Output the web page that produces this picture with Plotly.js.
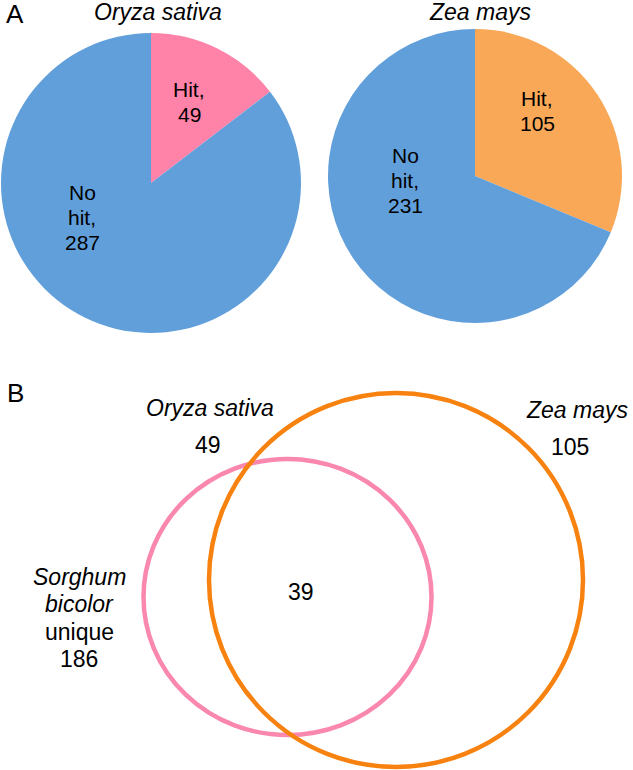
<!DOCTYPE html>
<html>
<head>
<meta charset="utf-8">
<script src="https://cdn.plot.ly/plotly-3.0.1.min.js"></script>
<style>html,body{margin:0;padding:0;background:#fff;}#chart{width:633px;height:770px;}</style>
</head>
<body>
<div id="chart"></div>
<script>
// ---- data ----
const species = ["Oryza sativa", "Zea mays"];
const sliceLabels = ["Hit", "No hit"];
const oryzaValues = [49, 287];
const zeaValues = [105, 231];
const vennSetCounts = [49, 105];      // Oryza sativa, Zea mays
const vennOverlap = 39;
const sorghumUnique = 186;

// ---- styles / layout helpers ----
const FONT = "'Liberation Sans', Arial, Helvetica, sans-serif";
const W = 633, H = 770;
const blue = "#619FDB", pink = "#FF82A9", orangePie = "#F9A857";
const vennPink = "#F987AE", vennOrange = "#F7820F";

function dom(x0, x1, yTop, yBot) {
  return { x: [x0 / W, x1 / W], y: [1 - yBot / H, 1 - yTop / H] };
}

const pies = [
  { values: oryzaValues, colors: [pink, blue], domain: dom(1, 301, 33, 333) },
  { values: zeaValues, colors: [orangePie, blue], domain: dom(328, 622, 29, 323) }
];

const traces = pies.map(p => ({
  type: "pie",
  values: p.values,
  labels: sliceLabels,
  sort: false,
  direction: "clockwise",
  rotation: 0,
  textinfo: "none",
  hoverinfo: "label+value",
  marker: { colors: p.colors, line: { width: 0 } },
  domain: p.domain,
  showlegend: false
}));

const annotations = [];
function ann(x, y, text, size) {
  annotations.push({ x: x, y: y, xref: "x", yref: "y", text: text, showarrow: false,
    font: { family: FONT, size: size, color: "#000" }, xanchor: "center", yanchor: "middle" });
}
// multi-line block with explicit line spacing
function block(x, yCenter, lines, size, spacing) {
  const y0 = yCenter - spacing * (lines.length - 1) / 2;
  lines.forEach((t, k) => ann(x, y0 + k * spacing, t, size));
}

// slice label lines built from data
function sliceLines(label, value) {
  return label.split(" ").map((w, k, a) => k === a.length - 1 ? w + "," : w).concat([String(value)]);
}

const labelPos = [
  [[189, 102], [82, 217]],
  [[537, 111], [405, 180]]
];
const titlePos = [[158, 12], [480, 12]];

[oryzaValues, zeaValues].forEach((vals, i) => {
  vals.forEach((v, j) => block(labelPos[i][j][0], labelPos[i][j][1], sliceLines(sliceLabels[j], v), 21, 25));
  ann(titlePos[i][0], titlePos[i][1], "<i>" + species[i] + "</i>", 23);
});

ann(15, 14, "A", 26);
ann(15, 393, "B", 26);

// Venn labels
ann(210, 408, "<i>" + species[0] + "</i>", 23);
ann(208, 445, String(vennSetCounts[0]), 23);
ann(577, 410, "<i>" + species[1] + "</i>", 23);
ann(570, 447, String(vennSetCounts[1]), 23);
ann(301, 592, String(vennOverlap), 23);
block(79, 618, ["<i>Sorghum</i>", "<i>bicolor</i>", "unique", String(sorghumUnique)], 23, 27.3);

// Venn circles (geometry)
const vennCircles = [
  { cx: 287.5, cy: 597, rx: 144, ry: 138, color: vennPink },
  { cx: 396, cy: 580, rx: 187, ry: 187, color: vennOrange }
];
const shapes = vennCircles.map(c => ({
  type: "circle", xref: "x", yref: "y",
  x0: c.cx - c.rx, x1: c.cx + c.rx, y0: c.cy - c.ry, y1: c.cy + c.ry,
  line: { color: c.color, width: 4.5 }, fillcolor: "rgba(0,0,0,0)", layer: "above"
}));

const layout = {
  width: W, height: H,
  margin: { l: 0, r: 0, t: 0, b: 0, pad: 0 },
  paper_bgcolor: "#fff", plot_bgcolor: "rgba(0,0,0,0)",
  xaxis: { range: [0, W], domain: [0, 1], visible: false, fixedrange: true },
  yaxis: { range: [H, 0], domain: [0, 1], visible: false, fixedrange: true },
  annotations: annotations,
  shapes: shapes,
  showlegend: false,
  font: { family: FONT }
};

Plotly.newPlot("chart", traces, layout, { displayModeBar: false, staticPlot: true });
</script>
</body>
</html>
